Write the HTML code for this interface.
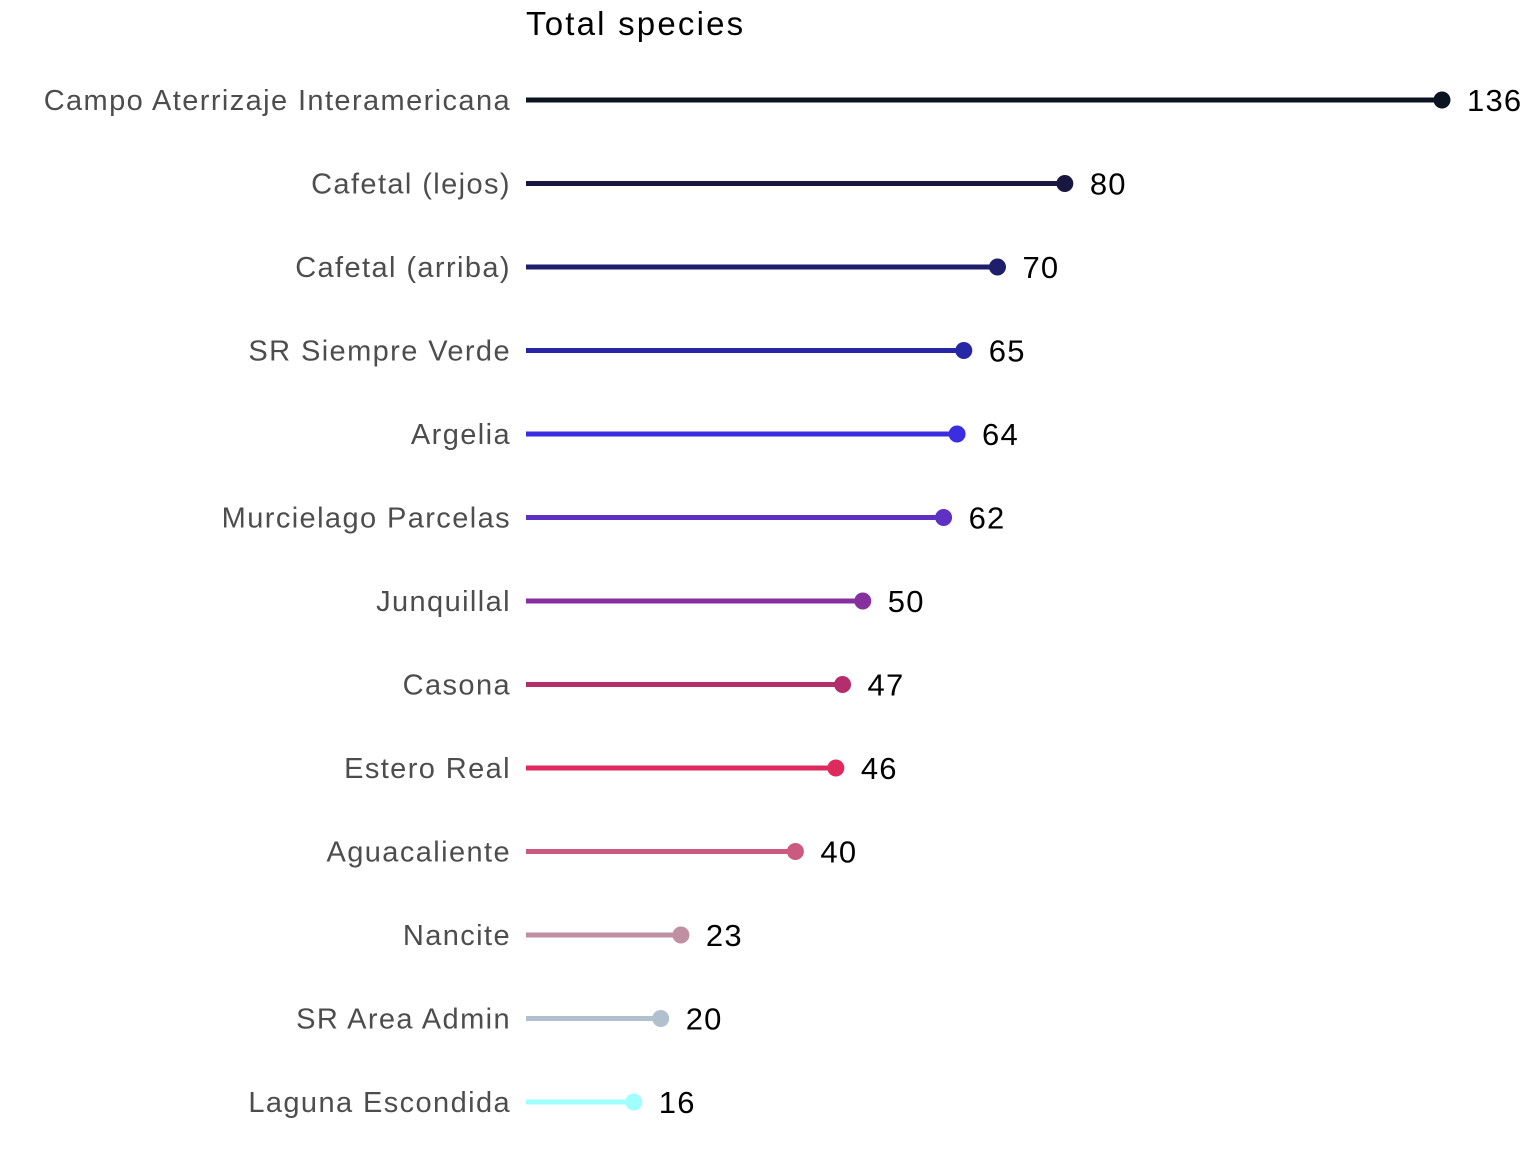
<!DOCTYPE html>
<html><head><meta charset="utf-8"><style>
body{margin:0;background:#fff;}
svg{display:block;font-family:"Liberation Sans",Arial,sans-serif;}
</style></head><body>
<svg id="chart" width="1536" height="1152">
<text x="526" y="35" font-size="33" letter-spacing="2.2" fill="#000">Total species</text>
</svg>
<script>
const categories=["Campo Aterrizaje Interamericana","Cafetal (lejos)","Cafetal (arriba)","SR Siempre Verde","Argelia","Murcielago Parcelas","Junquillal","Casona","Estero Real","Aguacaliente","Nancite","SR Area Admin","Laguna Escondida"];
const values=[136,80,70,65,64,62,50,47,46,40,23,20,16];
const colors=["#0b1420","#171740","#1e1e6a","#2626a6","#3a2ee0","#5f30c4","#862f9e","#b42e6c","#de2a5c","#cc5a80","#c090a2","#b0c0ce","#a0ffff"];
const svg=document.getElementById('chart');
const NS="http://www.w3.org/2000/svg";
const x=v=>526+v*(916/136);
const y=i=>100+i*83.5;
categories.forEach((c,i)=>{
  const g=document.createElementNS(NS,'g');
  
  
  const l=document.createElementNS(NS,'line');
  l.setAttribute('x1',x(0));l.setAttribute('x2',x(values[i]));
  l.setAttribute('y1',y(i));l.setAttribute('y2',y(i));
  l.setAttribute('stroke',colors[i]);l.setAttribute('stroke-width',5);
  
  
  const d=document.createElementNS(NS,'circle');
  d.setAttribute('cx',x(values[i]));d.setAttribute('cy',y(i));d.setAttribute('r',8.5);
  d.setAttribute('fill',colors[i]);
  
  
  const t=document.createElementNS(NS,'text');
  t.setAttribute('x',511);t.setAttribute('y',y(i)+10);t.setAttribute('text-anchor','end');
  t.setAttribute('font-size',29);t.setAttribute('letter-spacing',1.4);t.setAttribute('fill','#4d4d4d');t.textContent=c;
  
  
  const v=document.createElementNS(NS,'text');
  v.setAttribute('x',x(values[i])+25);v.setAttribute('y',y(i)+11);
  v.setAttribute('font-size',31);v.setAttribute('letter-spacing',1.2);v.setAttribute('fill','#000');v.textContent=values[i];
  
  
  g.append(l,d,t,v);svg.appendChild(g);
});
</script>
</body></html>
